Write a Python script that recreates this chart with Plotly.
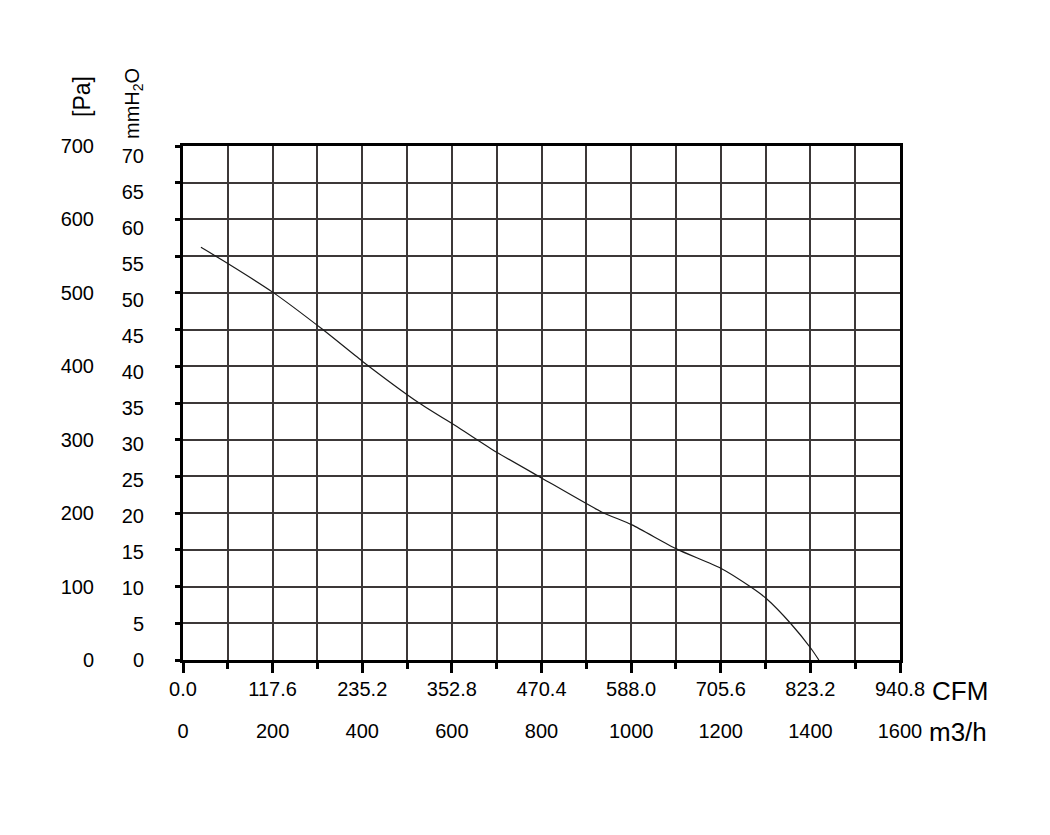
import plotly.graph_objects as go

# ---- data ----
flow_m3h = [40, 100, 200, 312, 400, 527, 616, 700, 800, 933, 1002, 1102, 1200, 1268, 1301, 1357, 1401, 1419]
pressure_pa = [562, 540, 501, 450, 407, 350, 316, 283, 248, 202, 184, 151, 125, 99, 84, 49, 16, 0]

m3h_ticks = [0, 200, 400, 600, 800, 1000, 1200, 1400, 1600]
cfm_ticks = [0.0, 117.6, 235.2, 352.8, 470.4, 588.0, 705.6, 823.2, 940.8]
pa_ticks = [0, 100, 200, 300, 400, 500, 600, 700]
mmh2o_ticks = [0, 5, 10, 15, 20, 25, 30, 35, 40, 45, 50, 55, 60, 65, 70]
PA_PER_MMH2O = 9.80665

W, H = 1050, 835
ML, MR, MT, MB = 40, 40, 40, 40
PW, PH = W - ML - MR, H - MT - MB
OX, OY = 7, 7  # page offset of the figure

def fx(px):
    return (px - OX - ML) / PW

def fy(py):
    return (H - MB - (py - OY)) / PH

FONT = "Liberation Sans, Arial, sans-serif"
GRID = "#3c3838"
TICKF = dict(size=20, family=FONT, color="#000")

fig = go.Figure()
fig.add_trace(go.Scatter(x=flow_m3h, y=pressure_pa, mode="lines",
                         line=dict(color="#1a1a1a", width=1.2, shape="spline", smoothing=0.6),
                         showlegend=False, hoverinfo="skip"))

fig.update_layout(
    width=W, height=H,
    margin=dict(l=ML, r=MR, t=MT, b=MB),
    paper_bgcolor="white", plot_bgcolor="white",
    font=dict(family=FONT, size=20, color="#000"),
    showlegend=False,
    xaxis=dict(domain=[fx(182), fx(899)], range=[0, 1600], tick0=0, dtick=200,
               ticks="outside", ticklen=10, tickwidth=3, tickcolor="black",
               showticklabels=False, showgrid=True, gridcolor=GRID, gridwidth=1.6,
               minor=dict(dtick=100, tick0=0, ticks="outside", ticklen=6, tickwidth=2.5,
                          tickcolor="black", showgrid=True, gridcolor=GRID, gridwidth=1.6),
               showline=True, linewidth=3, linecolor="black", mirror=True, zeroline=False),
    yaxis=dict(domain=[fy(659), fy(145)], range=[0, 700], tick0=0, dtick=50,
               ticks="outside", ticklen=5, tickwidth=3, tickcolor="black",
               showticklabels=False, showgrid=True, gridcolor=GRID, gridwidth=1.6,
               showline=True, linewidth=3, linecolor="black", mirror=True, zeroline=False),
    xaxis2=dict(overlaying="x", anchor="free", position=fy(674), side="bottom",
                range=[0, 940.8], tickmode="array", tickvals=cfm_ticks,
                ticktext=[f"{v:.1f}" for v in cfm_ticks], ticks="",
                showgrid=False, showline=False, zeroline=False, tickfont=TICKF),
    xaxis3=dict(overlaying="x", anchor="free", position=fy(716), side="bottom",
                range=[0, 1600], tickmode="array", tickvals=m3h_ticks,
                ticktext=[str(v) for v in m3h_ticks], ticks="",
                showgrid=False, showline=False, zeroline=False, tickfont=TICKF),
    yaxis2=dict(overlaying="y", anchor="free", position=fx(93), side="left",
                range=[0, 700], tickmode="array", tickvals=pa_ticks,
                ticktext=[str(v) for v in pa_ticks], ticks="",
                showgrid=False, showline=False, zeroline=False, tickfont=TICKF),
    yaxis3=dict(overlaying="y", anchor="free", position=fx(143), side="left",
                range=[0, 700 / PA_PER_MMH2O], tickmode="array", tickvals=mmh2o_ticks,
                ticktext=[str(v) for v in mmh2o_ticks], ticks="",
                showgrid=False, showline=False, zeroline=False, tickfont=TICKF),
)

# invisible traces to activate extra axes
fig.add_trace(go.Scatter(x=[None], y=[None], xaxis="x2", yaxis="y", showlegend=False))
fig.add_trace(go.Scatter(x=[None], y=[None], xaxis="x3", yaxis="y", showlegend=False))
fig.add_trace(go.Scatter(x=[None], y=[None], xaxis="x", yaxis="y2", showlegend=False))
fig.add_trace(go.Scatter(x=[None], y=[None], xaxis="x", yaxis="y3", showlegend=False))

anns = [
    dict(text="[Pa]", x=fx(81), y=fy(96), textangle=-90, size=23),
    dict(text="mmH<sub>2</sub>O", x=fx(133), y=fy(103), textangle=-90, size=20),
    dict(text="CFM", x=fx(959), y=fy(690), textangle=0, size=26),
    dict(text="m3/h", x=fx(957), y=fy(731), textangle=0, size=26),
]
for a in anns:
    fig.add_annotation(text=a["text"], x=a["x"], y=a["y"], xref="paper", yref="paper",
                       showarrow=False, textangle=a["textangle"],
                       font=dict(size=a["size"], family=FONT, color="#000"),
                       xanchor="center", yanchor="middle")

fig.write_html("out.html")
